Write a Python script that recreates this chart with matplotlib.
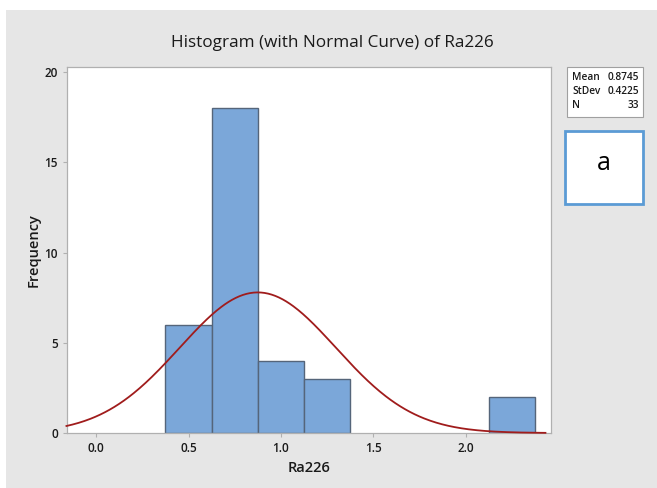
import numpy as np
import matplotlib
matplotlib.use("Agg")
import matplotlib.pyplot as plt
from matplotlib.patches import Rectangle

plt.rcParams['font.family'] = ['Open Sans', 'DejaVu Sans']

bin_centers = [0.5, 0.75, 1.0, 1.25, 2.25]
counts = [6, 18, 4, 3, 2]
bin_width = 0.25
mean, stdev, n = 0.8745, 0.4225, 33
x_ticks = [0.0, 0.5, 1.0, 1.5, 2.0]
y_ticks = [0, 5, 10, 15, 20]

fig = plt.figure(figsize=(6.57, 4.88), dpi=100)
fig.patch.set_facecolor('white')
W, H = 657, 488
# gray panel
fig.patches.append(Rectangle((6 / W, 0), 1 - 6 / W, 1 - 10 / H, transform=fig.transFigure,
                             facecolor='#e6e6e6', edgecolor='none', zorder=-10))

ax = fig.add_axes([67 / W, 1 - 433 / H, (551 - 67) / W, (433 - 67) / H])
ax.set_zorder(1)
ax.set_facecolor('white')
ax.bar(bin_centers, counts, width=bin_width, color='#7ba7d9', edgecolor='#55657a', linewidth=1.0, zorder=2)
xs = np.linspace(-0.16, 2.43, 400)
ys = n * bin_width / (stdev * np.sqrt(2 * np.pi)) * np.exp(-0.5 * ((xs - mean) / stdev) ** 2)
ax.plot(xs, ys, color='#a01c1c', linewidth=1.3, zorder=3, clip_on=False)
ax.set_xlim(-0.157, 2.46)
ax.set_ylim(0, 20.28)
ax.set_xticks(x_ticks)
ax.set_xticklabels([f"{t:.1f}" for t in x_ticks], fontweight='semibold')
ax.set_yticks(y_ticks)
ax.set_yticklabels([str(t) for t in y_ticks], fontweight='semibold')
for s in ax.spines.values():
    s.set_color('#b0b0b0')
    s.set_linewidth(0.9)
ax.tick_params(colors='#b0b0b0', labelcolor='#1a1a1a', labelsize=8.5, length=3, width=0.8)
ax.set_xlabel('Ra226', fontsize=10.5, labelpad=4, fontweight='semibold', color='#1a1a1a')
ax.set_ylabel('Frequency', fontsize=10.5, labelpad=3, fontweight='semibold', color='#1a1a1a')

fig.text(332 / W, 1 - 43 / H, 'Histogram (with Normal Curve) of Ra226', ha='center', va='center',
         fontsize=12.3, fontweight='medium', color='#1a1a1a')

# stats box
fig.patches.append(Rectangle((567 / W, 1 - 117 / H), 76 / W, 50 / H, transform=fig.transFigure,
                             facecolor='white', edgecolor='#a0a0a0', linewidth=0.8, zorder=1))
rows = [('Mean', '0.8745'), ('StDev', '0.4225'), ('N', '33')]
for i, (k, v) in enumerate(rows):
    y = 1 - (77 + i * 14) / H
    fig.text(572 / W, y, k, ha='left', va='center', fontsize=7.3, fontweight='semibold', color='#1a1a1a')
    fig.text(639 / W, y, v, ha='right', va='center', fontsize=7.3, fontweight='semibold', color='#1a1a1a')

# "a" box
fig.patches.append(Rectangle((565 / W, 1 - 204 / H), 78 / W, 73 / H, transform=fig.transFigure,
                             facecolor='white', edgecolor='#5b9bd5', linewidth=2.0, zorder=1))
fig.text(604 / W, 1 - 163 / H, 'a', ha='center', va='center', fontsize=18)

fig.savefig('out.png', dpi=100)
